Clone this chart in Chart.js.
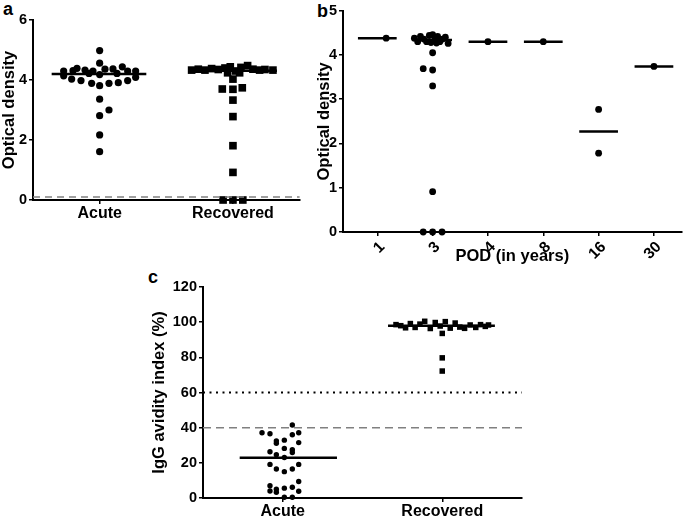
<!DOCTYPE html>
<html><head><meta charset="utf-8">
<script src="https://cdn.jsdelivr.net/npm/chart.js@4.4.0/dist/chart.umd.min.js"></script>
<style>
html,body{margin:0;padding:0;background:#fff;width:685px;height:516px;overflow:hidden;position:relative;}
canvas{position:absolute;}
.lbl{position:absolute;font:bold 18px "Liberation Sans",Arial,sans-serif;line-height:18px;color:#000;}
</style></head><body>
<div class="lbl" style="left:3px;top:0px">a</div>
<div class="lbl" style="left:317px;top:2px">b</div>
<div class="lbl" style="left:148px;top:268px">c</div>
<canvas id="ca" width="305" height="225" style="left:0;top:0;width:305px;height:225px"></canvas>
<canvas id="cb" width="380" height="270" style="left:305px;top:0;width:380px;height:270px"></canvas>
<canvas id="cc" width="400" height="246" style="left:140px;top:270px;width:400px;height:246px"></canvas>
<script>
// ---------------- DATA ----------------
// Panel a
const aCategories = ['Acute', 'Recovered'];
const aAcuteJitter = [0, 0, -0.27, -0.20, -0.17, -0.11, -0.05, 0.04, 0.10, 0.17, 0.21, 0.27,
  -0.27, -0.21, -0.14, -0.06, 0, 0.07, 0.14, 0.21, 0.27, 0, -0.08, 0.13, 0, 0.07, 0, 0, 0];
const aAcuteOD = [4.98, 4.56, 4.30, 4.31, 4.39, 4.33, 4.30, 4.36, 4.37, 4.44, 4.30, 4.30,
  4.14, 4.03, 3.98, 3.89, 3.81, 3.89, 3.91, 3.98, 4.09, 4.18, 4.22, 4.22, 3.36, 3.00, 2.81, 2.17, 1.61];
const aRecJitter = [-0.31, -0.26, -0.21, -0.16, -0.11, -0.06, -0.02, 0.02, 0.06, 0.11, 0.15, 0.20, 0.24, 0.30,
  -0.04, 0.05, 0, -0.08, 0, 0.07, 0, 0, 0, 0, -0.074, 0, 0.074];
const aRecOD = [4.33, 4.36, 4.33, 4.38, 4.35, 4.40, 4.44, 4.30, 4.42, 4.48, 4.36, 4.33, 4.35, 4.33,
  4.24, 4.24, 4.03, 3.70, 3.69, 3.74, 3.33, 2.78, 1.81, 0.92, 0, 0, 0];
const aMedians = [4.20, 4.31];
const aCutoff = 0.1;
const aYTicks = [0, 6, 2];

// Panel b
const podLabels = ['1', '3', '4', '8', '16', '30'];
const bGroup = [0,
  1, 1, 1, 1, 1, 1, 1, 1, 1, 1, 1, 1, 1, 1, 1,
  1, 1, 1, 1, 1, 1, 1, 1,
  2, 3, 4, 4, 5];
const bJitter = [0.16,
  -0.33, -0.27, -0.22, -0.16, -0.11, -0.06, 0, 0.04, 0.09, 0.13, 0.18, 0.23, 0.28, -0.03, 0.07,
  0, -0.17, 0, 0, 0, -0.17, 0, 0.17,
  0, 0, 0, 0, 0];
const bOD = [4.38,
  4.38, 4.30, 4.42, 4.36, 4.30, 4.44, 4.46, 4.35, 4.42, 4.30, 4.36, 4.40, 4.26, 4.28, 4.27,
  4.05, 3.69, 3.66, 3.30, 0.91, 0, 0, 0,
  4.30, 4.30, 2.77, 1.78, 3.74];
const bMedians = [4.38, 4.34, 4.30, 4.30, 2.27, 3.74];
const bYTicks = [0, 5, 1];

// Panel c
const cCategories = ['Acute', 'Recovered'];
const cAcuteJitter = [0.06, -0.13, -0.08, 0.06, 0.10, -0.04, 0.01, -0.04, 0.10, -0.08, 0.01, 0.06, 0.06,
  -0.04, 0.01, -0.08, 0.10, -0.04, 0.01, 0.06, -0.08, -0.08, -0.04, -0.04, 0.01, 0.06, 0.10, 0.10, 0.01, 0.06];
const cAcuteAI = [41.5, 37.1, 36.5, 36.0, 37.1, 32.5, 32.9, 31.1, 31.5, 26.3, 28.2, 27.4, 25.9,
  24.6, 23.0, 19.1, 19.1, 16.5, 15.0, 16.5, 7.0, 4.0, 5.0, 3.3, 5.6, 6.1, 9.4, 3.8, 0.4, 0.4];
const cRecJitter = [-0.29, -0.26, -0.23, -0.20, -0.17, -0.14, -0.11, -0.075, -0.044, -0.013, 0.019, 0.05,
  0.081, 0.11, 0.14, 0.175, 0.21, 0.24, 0.27, 0.29, 0, 0, 0];
const cRecAI = [98.6, 98.0, 96.8, 99.2, 97.0, 98.9, 100.5, 96.4, 99.8, 97.8, 100.3, 96.6,
  99.5, 97.2, 96.5, 98.4, 97.0, 98.6, 97.6, 98.4, 93.6, 79.7, 72.2];
const cMedians = [22.9, 98.0];
const cHighCutoff = 60;
const cLowCutoff = 40;
const cYTicks = [0, 120, 20];

// ---------------- HELPERS ----------------
const FONT = '"Liberation Sans", Arial, Helvetica, sans-serif';
Chart.defaults.font.family = FONT;
Chart.defaults.color = '#000';
Chart.defaults.animation = false;

function points(centers, jitter, values) {
  return values.map((v, i) => ({ x: (Array.isArray(centers) ? centers[i] : centers) + jitter[i], y: v }));
}
function segment(x0, x1, y) { return [{ x: x0, y: y }, { x: x1, y: y }]; }
function scatterSet(data, style, radius) {
  return { data, showLine: false, pointStyle: style, pointRadius: radius, pointHoverRadius: radius,
    backgroundColor: '#000', borderColor: '#000', borderWidth: 0, clip: false };
}
function lineSet(data, width, dash, color) {
  return { data, showLine: true, pointRadius: 0, pointHoverRadius: 0, borderColor: color || '#000',
    borderWidth: width, borderDash: dash || [], fill: false, clip: false, tension: 0 };
}
function yScale(t, title, width, titlePad, tickSize) {
  return {
    type: 'linear', position: 'left', min: t[0], max: t[1],
    ticks: { stepSize: t[2], color: '#000', font: { size: tickSize, weight: 'bold' }, padding: 2 },
    grid: { drawOnChartArea: false, drawTicks: true, tickLength: 4, color: '#000', lineWidth: 1.5 },
    border: { display: true, color: '#000', width: 2 },
    title: { display: true, text: title, color: '#000', font: { size: 16.5, weight: 'bold' }, padding: { top: titlePad, bottom: 0 } },
    afterFit(s) { s.width = width; }
  };
}
function xScale(min, max, labels, height, extra) {
  const pos = labels.map((_, i) => i + (extra.base || 0));
  const s = {
    type: 'linear', position: 'bottom', min, max,
    afterBuildTicks(sc) { sc.ticks = pos.map(v => ({ value: v })); },
    ticks: { color: '#000', font: { size: extra.tickSize || 16, weight: 'bold' }, padding: extra.pad || 0,
      labelOffset: extra.labelOffset || 0,
      autoSkip: false, minRotation: extra.rot || 0, maxRotation: extra.rot || 0,
      callback: (v) => { const k = pos.indexOf(v); return k >= 0 ? labels[k] : ''; } },
    grid: { drawOnChartArea: false, drawTicks: true, tickLength: 4, color: '#000', lineWidth: 1.5 },
    border: { display: true, color: '#000', width: 2 },
    afterFit(sc) { sc.height = height; }
  };
  if (extra.title) s.title = { display: true, text: extra.title, color: '#000', font: { size: 16.5, weight: 'bold' }, padding: { top: 0, bottom: 4 } };
  return s;
}
const baseOpts = { responsive: false, animation: false, events: [],
  plugins: { legend: { display: false }, tooltip: { enabled: false } } };

// ---------------- PANEL A ----------------
new Chart(document.getElementById('ca'), {
  type: 'scatter',
  data: { datasets: [
    lineSet(segment(1 - 0.36, 1 + 0.35, aMedians[0]), 2.5),
    lineSet(segment(2 - 0.33, 2 + 0.33, aMedians[1]), 2.5),
    lineSet(segment(0.5, 2.5, aCutoff), 1.5, [7, 5], '#808080'),
    scatterSet(points(1, aAcuteJitter, aAcuteOD), 'circle', 3.6),
    scatterSet(points(2, aRecJitter, aRecOD), 'rect', 5.4)
  ] },
  options: Object.assign({}, baseOpts, {
    layout: { padding: { left: 0, top: 20, right: 5, bottom: 0 } },
    scales: {
      x: xScale(0.5, 2.5, aCategories, 25, { base: 1 }),
      y: yScale(aYTicks, 'Optical density', 33, 0, 14.5)
    }
  })
});

// ---------------- PANEL B ----------------
const bMedianSets = bMedians.map((m, i) => lineSet(segment(i - 0.35, i + 0.35, m), 2.5));
new Chart(document.getElementById('cb'), {
  type: 'scatter',
  data: { datasets: bMedianSets.concat([
    scatterSet(points(bGroup, bJitter, bOD), 'circle', 3.4)
  ]) },
  options: Object.assign({}, baseOpts, {
    layout: { padding: { left: 6, top: 10, right: 2, bottom: 0 } },
    scales: {
      x: xScale(-0.62, 5.5, podLabels, 38, { base: 0, rot: 45, tickSize: 15.5, pad: 2, labelOffset: 5, title: 'POD (in years)' }),
      y: yScale(bYTicks, 'Optical density', 32, 4, 14.5)
    }
  })
});

// ---------------- PANEL C ----------------
new Chart(document.getElementById('cc'), {
  type: 'scatter',
  data: { datasets: [
    lineSet(segment(1 - 0.27, 1 + 0.34, cMedians[0]), 2.5),
    lineSet(segment(2 - 0.34, 2 + 0.33, cMedians[1]), 2.5),
    lineSet(segment(0.5, 2.5, cHighCutoff), 2, [2, 4.5], '#000'),
    lineSet(segment(0.5, 2.5, cLowCutoff), 1.5, [8, 5], '#808080'),
    scatterSet(points(1, cAcuteJitter, cAcuteAI), 'circle', 2.7),
    scatterSet(points(2, cRecJitter, cRecAI), 'rect', 3.9)
  ] },
  options: Object.assign({}, baseOpts, {
    layout: { padding: { left: 6, top: 17, right: 18, bottom: 0 } },
    scales: {
      x: xScale(0.5, 2.5, cCategories, 18, { base: 1 }),
      y: yScale(cYTicks, 'IgG avidity index (%)', 57, 4, 14.5)
    }
  })
});
</script>
</body></html>
